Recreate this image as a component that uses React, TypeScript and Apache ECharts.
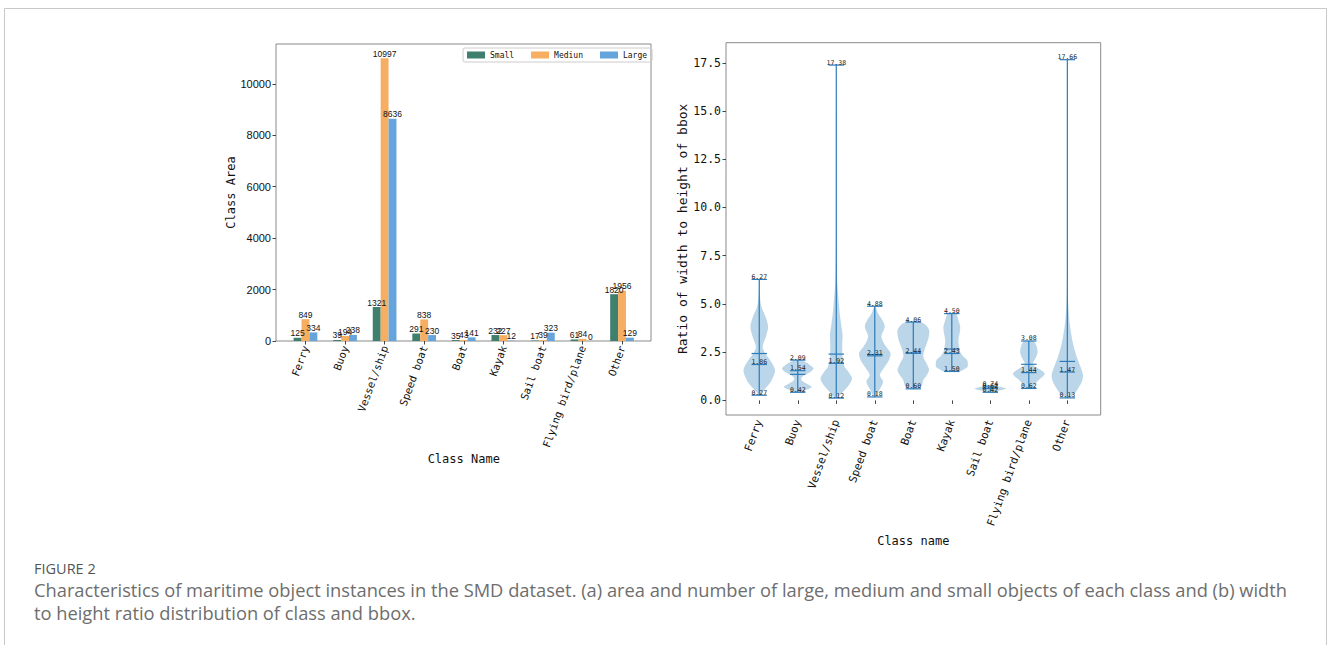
import React, { useEffect, useRef } from "react";
import * as echarts from "echarts";

const MONO = "DejaVu Sans Mono";

// ---------- Left chart: class area by object size ----------
const barCategories = ["Ferry", "Buoy", "Vessel/ship", "Speed boat", "Boat", "Kayak", "Sail boat", "Flying bird/plane", "Other"];
const smallValues = [125, 39, 1321, 291, 35, 232, 17, 61, 1820];
const mediumValues = [849, 194, 10997, 838, 43, 227, 39, 84, 1956];
const largeValues = [334, 238, 8636, 230, 141, 12, 323, 0, 129];
const barYTicks = [0, 2000, 4000, 6000, 8000, 10000];
const barYMax = 11547;

// ---------- Right chart: width/height ratio violins ----------
const violinCategories = ["Ferry", "Buoy", "Vessel/ship", "Speed boat", "Boat", "Kayak", "Sail boat", "Flying bird/plane", "Other"];
const violinMax = [6.27, 2.09, 17.38, 4.88, 4.06, 4.5, 0.74, 3.08, 17.66];
const violinMedian = [1.86, 1.54, 1.92, 2.31, 2.44, 2.43, 0.62, 1.44, 1.47];
const violinMin = [0.27, 0.42, 0.12, 0.18, 0.6, 1.5, 0.42, 0.62, 0.13];
const violinMean = [2.43, 1.35, 2.4, 2.38, 2.45, 2.66, 0.62, 1.87, 2.02];
const violinYTicks = [0, 2.5, 5, 7.5, 10, 12.5, 15, 17.5];
const violinYMin = -0.757;
const violinYMax = 18.54;
// density outline: [ratio value, relative half width]
const violinProfiles: number[][][] = [
  [[0.27, 0.04], [0.45, 0.18], [0.7, 0.47], [1.05, 0.79], [1.57, 1.0], [2.09, 0.68], [2.44, 0.37], [2.78, 0.21], [3.3, 0.42], [3.82, 0.56], [4.33, 0.4], [4.85, 0.14], [5.4, 0.04], [6.27, 0.01]],
  [[0.42, 0.15], [0.55, 0.55], [0.7, 0.88], [0.85, 0.6], [1.0, 0.3], [1.14, 0.22], [1.3, 0.4], [1.5, 0.85], [1.66, 1.0], [1.85, 0.75], [2.0, 0.45], [2.09, 0.2]],
  [[0.12, 0.05], [0.44, 0.42], [0.8, 0.8], [1.14, 1.0], [1.45, 0.8], [1.74, 0.53], [2.26, 0.4], [2.95, 0.38], [3.4, 0.4], [3.82, 0.33], [4.5, 0.22], [5.03, 0.16], [6.2, 0.06], [8, 0.02], [11, 0.01], [17.38, 0]],
  [[0.18, 0.05], [0.53, 0.28], [0.96, 0.53], [1.31, 0.32], [1.74, 0.63], [2.1, 0.9], [2.44, 1.0], [2.8, 0.7], [3.3, 0.42], [3.82, 0.63], [4.2, 0.45], [4.51, 0.21], [4.88, 0.03]],
  [[0.6, 0.35], [0.8, 0.55], [1.05, 0.63], [1.3, 0.85], [1.57, 1.0], [1.9, 0.85], [2.26, 0.63], [2.6, 0.7], [2.95, 0.85], [3.3, 0.98], [3.65, 1.0], [3.9, 0.8], [4.06, 0.45]],
  [[1.5, 0.5], [1.6, 0.75], [1.74, 1.0], [2.09, 0.97], [2.3, 0.7], [2.52, 0.53], [2.8, 0.45], [3.13, 0.42], [3.5, 0.5], [3.82, 0.53], [4.15, 0.42], [4.42, 0.32], [4.5, 0.3]],
  [[0.42, 0.15], [0.5, 0.5], [0.58, 0.9], [0.62, 1.0], [0.67, 0.8], [0.74, 0.25]],
  [[0.62, 0.2], [0.7, 0.28], [0.9, 0.45], [1.05, 0.6], [1.25, 0.9], [1.4, 1.0], [1.6, 0.7], [1.83, 0.26], [2.0, 0.3], [2.26, 0.47], [2.5, 0.55], [2.69, 0.53], [2.9, 0.45], [3.08, 0.3]],
  [[0.13, 0.12], [0.35, 0.45], [0.59, 0.66], [0.9, 0.88], [1.28, 1.0], [1.7, 0.85], [2.32, 0.57], [2.8, 0.4], [3.36, 0.26], [4.2, 0.12], [5.4, 0.04], [7, 0.015], [10, 0.005], [17.66, 0]],
];

const captionTitle = "FIGURE 2";
const captionLine1 = "Characteristics of maritime object instances in the SMD dataset. (a) area and number of large, medium and small objects of each class and (b) width";
const captionLine2 = "to height ratio distribution of class and bbox.";

const VIOLIN_LINE = "#2b7bba";

function renderViolin(params: any, api: any) {
  const i = api.value(0);
  const prof = violinProfiles[i];
  const bw = api.size([1, 0])[0];
  const maxHalf = bw * 0.41;
  const cap = bw * 0.2;
  const cx = api.coord([i, 0])[0];
  const leftSide = prof.map((p) => [cx - p[1] * maxHalf, api.coord([i, p[0]])[1]]);
  const rightSide = prof.slice().reverse().map((p) => [cx + p[1] * maxHalf, api.coord([i, p[0]])[1]]);
  const yMax = api.coord([i, violinMax[i]])[1];
  const yMin = api.coord([i, violinMin[i]])[1];
  const yMed = api.coord([i, violinMedian[i]])[1];
  const yMean = api.coord([i, violinMean[i]])[1];
  const hline = (y: number) => ({
    type: "line",
    shape: { x1: cx - cap, y1: y, x2: cx + cap, y2: y },
    style: { stroke: VIOLIN_LINE, lineWidth: 1.2 },
  });
  const label = (y: number, v: number) => ({
    type: "text",
    x: cx,
    y: y + 1,
    style: { text: v.toFixed(2), align: "center", verticalAlign: "bottom", fontSize: 6.5, fontFamily: MONO, fill: "#222" },
  });
  return {
    type: "group",
    children: [
      {
        type: "polygon",
        shape: { points: leftSide.concat(rightSide), smooth: 0.3 },
        style: { fill: "rgba(31,119,180,0.3)", stroke: "none" },
      },
      { type: "line", shape: { x1: cx, y1: yMin, x2: cx, y2: yMax }, style: { stroke: VIOLIN_LINE, lineWidth: 1.2 } },
      hline(yMax),
      hline(yMin),
      hline(yMed),
      hline(yMean),
      label(yMax, violinMax[i]),
      label(yMed, violinMedian[i]),
      label(yMin, violinMin[i]),
    ],
  };
}

export default function App() {
  const ref = useRef<HTMLDivElement>(null);
  useEffect(() => {
    const chart = echarts.init(ref.current!, null, { renderer: "svg" });
    const barLabel = { show: true, position: "top", distance: 0, fontSize: 8.5, fontFamily: "Liberation Sans", color: "#111" };
    const option: any = {
      animation: false,
      backgroundColor: "#fff",
      legend: {
        left: 463,
        top: 48,
        itemWidth: 18,
        itemHeight: 7,
        itemGap: 17,
        icon: "rect",
        borderColor: "#ccc",
        borderWidth: 1,
        borderRadius: 2,
        padding: [3, 5, 3, 4],
        textStyle: { fontSize: 8, fontFamily: MONO, color: "#111" },
        data: ["Small", "Mediun", "Large"],
      },
      grid: [
        { left: 285.7, width: 356.1, top: 44, height: 297 },
        { left: 740, width: 346.6, top: 42.7, height: 372.3 },
      ],
      xAxis: [
        {
          type: "category",
          gridIndex: 0,
          data: barCategories,
          axisLine: { show: false },
          axisTick: { show: true, alignWithLabel: true, length: 3.5, lineStyle: { color: "#444" } },
          axisLabel: { rotate: 70, interval: 0, fontSize: 10.5, fontFamily: MONO, color: "#111", margin: 5 },
          name: "Class Name",
          nameLocation: "middle",
          nameGap: 94,
          nameTextStyle: { fontSize: 12, fontFamily: MONO, color: "#111" },
        },
        {
          type: "category",
          gridIndex: 1,
          data: violinCategories,
          axisLine: { show: false },
          axisTick: { show: true, alignWithLabel: true, length: 3.5, lineStyle: { color: "#444" } },
          axisLabel: { rotate: 70, interval: 0, fontSize: 11, fontFamily: MONO, color: "#111", margin: 5 },
          name: "Class name",
          nameLocation: "middle",
          nameGap: 115,
          nameTextStyle: { fontSize: 12, fontFamily: MONO, color: "#111" },
        },
      ],
      yAxis: [
        {
          type: "value",
          gridIndex: 0,
          min: 0,
          max: barYMax,
          offset: 9.7,
          axisLine: { show: false },
          splitLine: { show: false },
          axisTick: { show: true, length: 3.5, lineStyle: { color: "#444" }, customValues: barYTicks },
          axisLabel: { fontSize: 11, fontFamily: "Liberation Sans", color: "#111", margin: 5, customValues: barYTicks, formatter: (v: number) => String(v) },
          name: "Class Area",
          nameLocation: "middle",
          nameGap: 35,
          nameTextStyle: { fontSize: 12, fontFamily: MONO, color: "#111" },
        },
        {
          type: "value",
          gridIndex: 1,
          min: violinYMin,
          max: violinYMax,
          offset: 14,
          axisLine: { show: false },
          splitLine: { show: false },
          axisTick: { show: true, length: 3.5, lineStyle: { color: "#444" }, customValues: violinYTicks },
          axisLabel: { fontSize: 11.5, fontFamily: MONO, color: "#111", margin: 5, customValues: violinYTicks, formatter: (v: number) => v.toFixed(1) },
          name: "Ratio of width to height of bbox",
          nameLocation: "middle",
          nameGap: 29,
          nameTextStyle: { fontSize: 13, fontFamily: MONO, color: "#111" },
        },
      ],
      series: [
        { name: "Small", type: "bar", xAxisIndex: 0, yAxisIndex: 0, data: smallValues, barWidth: 7.9, barGap: "0%", itemStyle: { color: "#3f7f6e" }, label: barLabel },
        { name: "Mediun", type: "bar", xAxisIndex: 0, yAxisIndex: 0, data: mediumValues, barWidth: 7.9, barGap: "0%", itemStyle: { color: "#f6ae62" }, label: barLabel },
        { name: "Large", type: "bar", xAxisIndex: 0, yAxisIndex: 0, data: largeValues, barWidth: 7.9, barGap: "0%", itemStyle: { color: "#66a5dc" }, label: barLabel },
        {
          type: "custom",
          xAxisIndex: 1,
          yAxisIndex: 1,
          clip: false,
          renderItem: renderViolin,
          encode: { x: 0, y: [1, 2] },
          data: violinCategories.map((_, i) => [i, violinMin[i], violinMax[i]]),
        },
      ],
      graphic: [
        {
          type: "polyline",
          silent: true,
          shape: { points: [[4.5, 660], [4.5, 8.5], [1326.5, 8.5], [1326.5, 660]] },
          style: { stroke: "#c8c8c8", lineWidth: 1, fill: "none" },
        },
        { type: "rect", silent: true, shape: { x: 276, y: 44, width: 375, height: 297 }, style: { fill: "none", stroke: "#8a8a8a", lineWidth: 1 } },
        { type: "rect", silent: true, shape: { x: 726, y: 42.7, width: 374.7, height: 372.3 }, style: { fill: "none", stroke: "#8a8a8a", lineWidth: 1 } },
        { type: "text", left: 34, top: 561, style: { text: captionTitle, fontSize: 14.5, fontFamily: "Open Sans", fill: "#555" } },
        { type: "text", left: 34, top: 580, style: { text: captionLine1, fontSize: 18.3, fontFamily: "Open Sans", fill: "#6e6e6e" } },
        { type: "text", left: 34, top: 603, style: { text: captionLine2, fontSize: 18.3, fontFamily: "Open Sans", fill: "#6e6e6e" } },
      ],
    };
    chart.setOption(option);
    return () => chart.dispose();
  }, []);
  return <div ref={ref} style={{ position: "absolute", left: 0, top: 0, width: 1328, height: 645 }} />;
}
